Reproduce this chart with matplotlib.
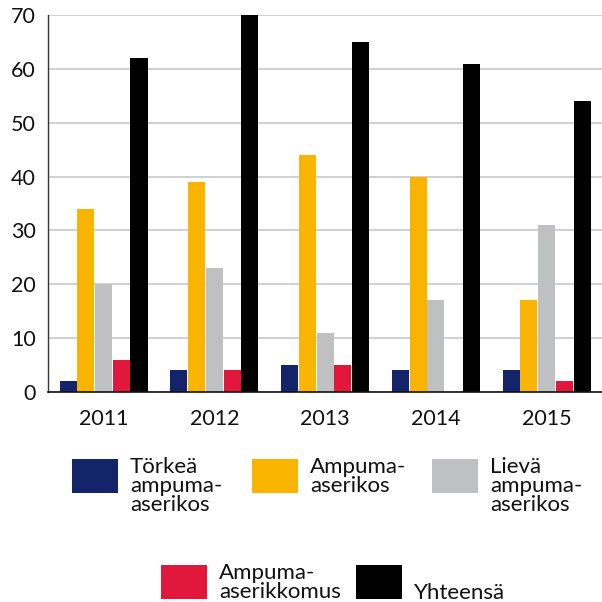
import matplotlib
matplotlib.use('Agg')
import matplotlib.pyplot as plt
import numpy as np
from matplotlib.patches import Rectangle

plt.rcParams['font.family'] = ['Lato', 'DejaVu Sans']

# Data
years = ['2011', '2012', '2013', '2014', '2015']
torkea = [2, 4, 5, 4, 4]
ampuma = [34, 39, 44, 40, 17]
lieva = [20, 23, 11, 17, 31]
rikkomus = [6, 4, 5, 0, 2]
yhteensa = [62, 70, 65, 61, 54]

series = [torkea, ampuma, lieva, rikkomus, yhteensa]
labels = ['Törkeä\nampuma-\naserikos', 'Ampuma-\naserikos', 'Lievä\nampuma-\naserikos',
          'Ampuma-\naserikkomus', 'Yhteensä']
colors = ['#13246b', '#f9b400', '#bfc0c1', '#e1183c', '#000000']

fig = plt.figure(figsize=(6.02, 6.02), dpi=100)
ax = fig.add_axes([0.08, 0.349, 0.92, 0.626])

x = np.arange(len(years))
step = 0.16
for i, (vals, col) in enumerate(zip(series, colors)):
    ax.bar(x + (i - 2) * step, vals, width=step - 0.006, color=col, zorder=2)

ax.set_xlim(-0.5, len(years) - 0.5)
ax.set_ylim(0, 70)
ax.set_yticks(range(0, 71, 10))
ax.set_xticks(x)
ax.set_xticklabels(years)
ax.tick_params(axis='both', length=0, labelsize=15.5, colors='#111111')
ax.tick_params(axis='y', pad=9)
ax.tick_params(axis='x', pad=12)
ax.yaxis.grid(True, color='#c8c8c8', linewidth=1.2)
ax.set_axisbelow(True)
for s in ['top', 'right']:
    ax.spines[s].set_visible(False)
ax.spines['left'].set_color('#333333')
ax.spines['bottom'].set_color('#111111')
ax.spines['left'].set_linewidth(1.0)
ax.spines['bottom'].set_linewidth(1.2)

# Legend: 3 items in the first row, 2 in the second
W, H = 602.0, 602.0
pos = [(72, 459), (252, 459), (432, 459), (161, 565), (356, 565)]
for (px, py), lab, col in zip(pos, labels, colors):
    fig.add_artist(Rectangle((px / W, 1 - (py + 34) / H), 46 / W, 34 / H,
                             facecolor=col, edgecolor='none', transform=fig.transFigure))
    ty = py - 2
    if lab == 'Yhteensä':
        ty = py + 18
    fig.text((px + 58) / W, 1 - ty / H, lab, fontsize=16, va='top', ha='left',
             linespacing=0.95, color='#111111')

fig.savefig('out.png', dpi=100)
